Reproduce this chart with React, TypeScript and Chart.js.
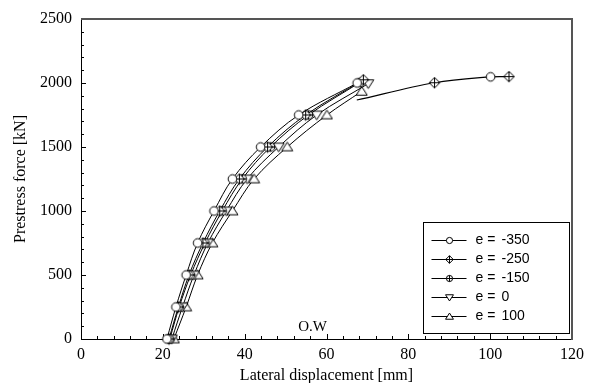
import React, { useEffect, useRef } from "react";
import { Chart, registerables } from "chart.js";

Chart.register(...registerables);

// ---- Data ----
const seriesLabels = ["-350", "-250", "-150", "0", "100"];
const xM350 = [21.0, 23.2, 25.7, 28.5, 32.5, 37.0, 43.9, 53.2, 67.5];
const yM350 = [0, 250, 500, 750, 1000, 1250, 1500, 1750, 2000];
const xM250 = [21.5, 23.8, 26.4, 29.8, 33.9, 38.7, 45.6, 54.9, 69.0];
const yM250 = [0, 250, 500, 750, 1000, 1250, 1500, 1750, 2025];
const xM150 = [21.7, 24.0, 26.8, 30.3, 34.5, 39.4, 46.3, 55.6, 68.2];
const yM150 = [0, 250, 500, 750, 1000, 1250, 1500, 1750, 2005];
const xE0 = [22.2, 24.8, 27.6, 31.0, 35.5, 40.6, 48.3, 57.6, 70.2];
const yE0 = [0, 250, 500, 750, 1000, 1250, 1500, 1750, 1995];
const xE100 = [22.7, 25.7, 28.5, 32.1, 37.0, 42.3, 50.4, 60.1, 68.6];
const yE100 = [0, 250, 500, 750, 1000, 1250, 1500, 1750, 1935];
// continuation curve (upper right)
const xExt = [67.4, 86.4, 100.1, 104.6];
const yExt = [1867, 2002, 2048, 2050];
const extMarkers = ["none", "diamondPlus", "circle", "diamondPlus"];

const xTicks = [0, 20, 40, 60, 80, 100, 120];
const yTicks = [0, 500, 1000, 1500, 2000, 2500];
const annotationText = "O.W";
const annotationAt = { x: 56.6, y: 94 };

const SERIF = "'Liberation Serif', 'Times New Roman', serif";
const SANS = "'Liberation Sans', Arial, sans-serif";

function makeMarker(kind: string, s: number = 1): HTMLCanvasElement {
  const c = document.createElement("canvas");
  c.width = 13;
  c.height = 13;
  const ctx = c.getContext("2d")!;
  const cx = 6.5,
    cy = 6.5;
  ctx.strokeStyle = "#000";
  ctx.fillStyle = "#fff";
  ctx.lineWidth = 1;
  ctx.beginPath();
  const rc = 4.3 * s,
    rd = 5.3 * s,
    tw = 5.5 * s,
    th1 = 3.8 * s,
    th2 = 4.8 * s;
  if (kind === "circle" || kind === "circlePlus") {
    ctx.arc(cx, cy, rc, 0, Math.PI * 2);
  } else if (kind === "diamondPlus") {
    ctx.moveTo(cx, cy - rd);
    ctx.lineTo(cx + rd, cy);
    ctx.lineTo(cx, cy + rd);
    ctx.lineTo(cx - rd, cy);
    ctx.closePath();
  } else if (kind === "triDown") {
    ctx.moveTo(cx - tw, cy - th1);
    ctx.lineTo(cx + tw, cy - th1);
    ctx.lineTo(cx, cy + th2);
    ctx.closePath();
  } else if (kind === "triUp") {
    ctx.moveTo(cx - tw, cy + th1);
    ctx.lineTo(cx + tw, cy + th1);
    ctx.lineTo(cx, cy - th2);
    ctx.closePath();
  } else {
    return c;
  }
  ctx.fill();
  ctx.stroke();
  if (kind === "circlePlus" || kind === "diamondPlus") {
    const r = kind === "circlePlus" ? rc : rd;
    ctx.beginPath();
    ctx.moveTo(cx - r, cy);
    ctx.lineTo(cx + r, cy);
    ctx.moveTo(cx, cy - r);
    ctx.lineTo(cx, cy + r);
    ctx.stroke();
  }
  return c;
}

export default function App() {
  const ref = useRef<HTMLCanvasElement | null>(null);

  useEffect(() => {
    if (!ref.current) return;
    Chart.defaults.font.family = SERIF;
    Chart.defaults.color = "#000";

    const markerKinds = ["circle", "diamondPlus", "circlePlus", "triDown", "triUp"];
    const markers = markerKinds.map((k) => makeMarker(k));
    const legendMarkers = markerKinds.map((k) => makeMarker(k, 0.72));
    const markerMap: Record<string, HTMLCanvasElement> = {
      circle: markers[0],
      diamondPlus: markers[1],
      circlePlus: markers[2],
      triDown: markers[3],
      triUp: markers[4],
      none: makeMarker("none"),
    };

    const xs = [xM350, xM250, xM150, xE0, xE100];
    const ys = [yM350, yM250, yM150, yE0, yE100];

    const datasets: any[] = xs.map((xv, i) => ({
      label: "e =  " + seriesLabels[i],
      data: xv.map((x, j) => ({ x, y: ys[i][j] })),
      borderColor: "#000",
      borderWidth: 1,
      pointStyle: markers[i],
      pointRadius: 5,
      tension: 0.35,
      clip: false,
    }));
    datasets.push({
      label: "",
      data: xExt.map((x, j) => ({ x, y: yExt[j] })),
      borderColor: "#000",
      borderWidth: 1.2,
      pointStyle: extMarkers.map((k) => markerMap[k]),
      pointRadius: extMarkers.map((k) => (k === "none" ? 0 : 5)),
      tension: 0.35,
      clip: false,
    });

    const framePlugin = {
      id: "frame",
      beforeDatasetsDraw(chart: any) {
        const { ctx, chartArea: a, scales } = chart;
        const xS = scales.x,
          yS = scales.y;
        ctx.save();
        ctx.strokeStyle = "#000";
        ctx.lineWidth = 1;
        for (let v = 0; v <= 120; v += 4) {
          const px = Math.round(xS.getPixelForValue(v)) + 0.5;
          const len = v % 20 === 0 ? 5 : 3;
          ctx.beginPath();
          ctx.moveTo(px, a.bottom);
          ctx.lineTo(px, a.bottom - len);
          ctx.stroke();
        }
        for (let v = 0; v <= 2500; v += 100) {
          const py = Math.round(yS.getPixelForValue(v)) + 0.5;
          const len = v % 500 === 0 ? 5 : 3;
          ctx.beginPath();
          ctx.moveTo(a.left, py);
          ctx.lineTo(a.left + len, py);
          ctx.stroke();
        }
        ctx.beginPath();
        ctx.moveTo(Math.round(a.left) + 0.5, a.top);
        ctx.lineTo(Math.round(a.left) + 0.5, Math.round(a.bottom) + 0.5);
        ctx.lineTo(a.right, Math.round(a.bottom) + 0.5);
        ctx.stroke();
        ctx.strokeStyle = "#555";
        ctx.lineWidth = 2;
        ctx.beginPath();
        ctx.moveTo(a.left, Math.round(a.top));
        ctx.lineTo(Math.round(a.right), Math.round(a.top));
        ctx.lineTo(Math.round(a.right), a.bottom + 1);
        ctx.stroke();
        ctx.fillStyle = "#000";
        ctx.font = "15px " + SERIF;
        ctx.textAlign = "center";
        ctx.textBaseline = "middle";
        ctx.fillText(annotationText, xS.getPixelForValue(annotationAt.x), yS.getPixelForValue(annotationAt.y));
        ctx.restore();
      },
    };

    const legendPlugin = {
      id: "boxLegend",
      afterDraw(chart: any) {
        const { ctx, chartArea: a } = chart;
        const left = Math.round(a.right) - 149 + 0.5;
        const top = Math.round(a.top) + 203 + 0.5;
        const w = 146,
          h = 111;
        ctx.save();
        ctx.fillStyle = "#fff";
        ctx.fillRect(left, top, w, h);
        ctx.strokeStyle = "#000";
        ctx.lineWidth = 1;
        ctx.strokeRect(left, top, w, h);
        ctx.font = "14px " + SANS;
        ctx.textBaseline = "middle";
        ctx.fillStyle = "#000";
        for (let i = 0; i < seriesLabels.length; i++) {
          const y = Math.round(top + 17 + i * 19) + 0.5;
          ctx.beginPath();
          ctx.moveTo(left + 8, y);
          ctx.lineTo(left + 43, y);
          ctx.stroke();
          const m = legendMarkers[i];
          ctx.drawImage(m, Math.round(left + 26 - m.width / 2), Math.round(y - m.height / 2));
          ctx.textAlign = "left";
          ctx.fillText("e =", left + 52, y);
          ctx.fillText(seriesLabels[i], left + 78, y);
        }
        ctx.restore();
      },
    };

    const chart = new Chart(ref.current, {
      type: "line",
      data: { datasets },
      options: {
        animation: false,
        responsive: false,
        layout: { padding: { top: 19, right: 15, left: 0, bottom: 0 } },
        plugins: {
          legend: { display: false },
          tooltip: { enabled: false },
        },
        scales: {
          x: {
            type: "linear",
            min: 0,
            max: 120,
            afterBuildTicks: (s: any) => {
              s.ticks = xTicks.map((v) => ({ value: v }));
            },
            afterFit: (s: any) => {
              s.height = 44;
            },
            grid: { display: false, drawTicks: false },
            border: { display: false },
            ticks: {
              font: { size: 16, family: SERIF },
              color: "#000",
              padding: 6,
              maxRotation: 0,
              callback: (v: any) => String(v),
            },
            title: {
              display: true,
              text: "Lateral displacement [mm]",
              font: { size: 16, family: SERIF },
              color: "#000",
              padding: { top: 0, bottom: -2 },
            },
          },
          y: {
            type: "linear",
            min: 0,
            max: 2500,
            afterBuildTicks: (s: any) => {
              s.ticks = yTicks.map((v) => ({ value: v }));
            },
            afterFit: (s: any) => {
              s.width = 81;
            },
            grid: { display: false, drawTicks: false },
            border: { display: false },
            ticks: {
              font: { size: 16, family: SERIF },
              color: "#000",
              padding: 9,
              callback: (v: any) => String(v),
            },
            title: {
              display: true,
              text: "Prestress force [kN]",
              font: { size: 16, family: SERIF },
              color: "#000",
              padding: { top: 11, bottom: 0 },
            },
          },
        },
      } as any,
      plugins: [framePlugin, legendPlugin],
    });
    return () => chart.destroy();
  }, []);

  return (
    <div style={{ position: "fixed", left: 0, top: 0, width: 590, height: 383, background: "#fff" }}>
      <canvas ref={ref} width={590} height={383} style={{ display: "block", width: 590, height: 383 }} />
    </div>
  );
}
